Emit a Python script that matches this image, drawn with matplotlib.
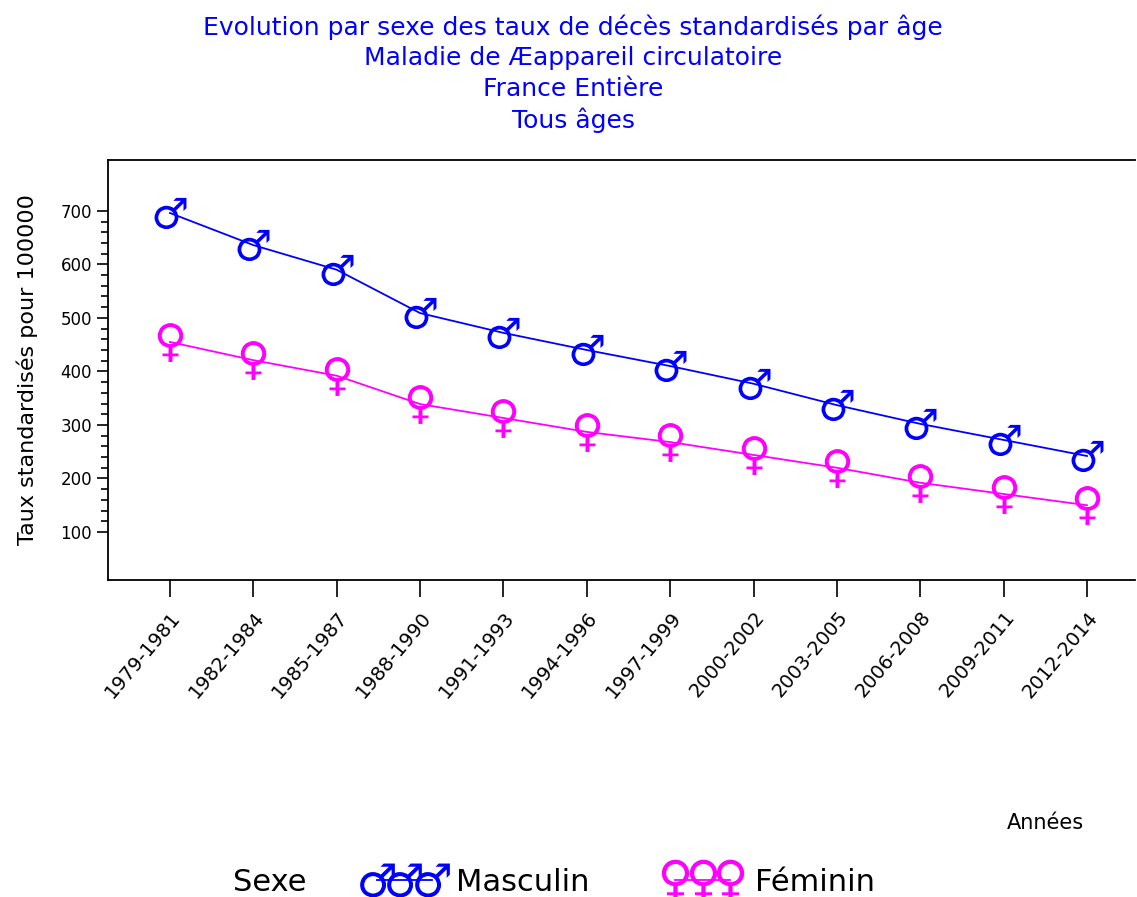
import matplotlib
matplotlib.use("Agg")
import matplotlib.pyplot as plt
from matplotlib.lines import Line2D

periodes = ["1979-1981", "1982-1984", "1985-1987", "1988-1990", "1991-1993", "1994-1996",
            "1997-1999", "2000-2002", "2003-2005", "2006-2008", "2009-2011", "2012-2014"]
masculin = [696, 636, 590, 509, 472, 440, 410, 377, 337, 302, 272, 242]
feminin = [455, 421, 392, 339, 313, 287, 268, 244, 220, 192, 171, 150]

titre = ["Evolution par sexe des taux de décès standardisés par âge",
         "Maladie de Æappareil circulatoire",
         "France Entière",
         "Tous âges"]

bleu = "#0000ff"
rose = "#ff00ff"

plt.rcParams['font.family'] = ['DejaVu Sans']

fig = plt.figure(figsize=(11.37, 8.97), dpi=100)
ax = fig.add_axes([108/1137, 1 - 580/897, (1135-108)/1137, (580-160)/897])

x = list(range(len(periodes)))
ax.plot(x, masculin, color=bleu, lw=1.3, marker="$\u2642$", markersize=23,
        markerfacecolor=bleu, markeredgewidth=0)
ax.plot(x, feminin, color=rose, lw=1.3, marker="$\u2640$", markersize=28,
        markerfacecolor=rose, markeredgewidth=0)

ax.set_xlim(-0.743, 11.576)
ax.set_ylim(10.3, 795)
ax.set_xticks(x)
ax.set_xticklabels(periodes, rotation=50, ha="right", va="top",
                   rotation_mode="anchor", fontsize=14)
ax.set_yticks([100, 200, 300, 400, 500, 600, 700])
ax.set_yticks(range(100, 701, 20), minor=True)
ax.tick_params(axis="y", labelsize=12, length=8, width=1.2)
ax.tick_params(axis="y", which="minor", length=5, width=1.2)
ax.tick_params(axis="x", length=12, width=1.2, pad=8)
ax.spines["right"].set_visible(False)
for s in ["left", "top", "bottom"]:
    ax.spines[s].set_linewidth(1.3)
ax.set_ylabel("Taux standardisés pour 100000", fontsize=16, labelpad=16)

for i, ligne in enumerate(titre):
    fig.text(0.504, 1 - (27 + i * 31) / 897, ligne, color=bleu, fontsize=18,
             ha="center", va="center")

fig.text(1045/1137, 1 - 823/897, "Années", fontsize=15, ha="center", va="center")
fig.text(233/1137, 1 - 882/897, "Sexe", fontsize=22, ha="left", va="center")

poignees = [Line2D([], [], color=bleu, lw=1.3, marker="$\u2642$", markersize=25,
                   markerfacecolor=bleu, markeredgewidth=0),
            Line2D([], [], color=rose, lw=1.3, marker="$\u2640$", markersize=30,
                   markerfacecolor=rose, markeredgewidth=0)]
fig.legend(poignees, ["Masculin", "Féminin"], loc="center left",
           bbox_to_anchor=(340/1137, 1 - 882/897), ncol=2, frameon=False,
           fontsize=22, numpoints=3, handlelength=2.4, handletextpad=0.5,
           columnspacing=2.5, borderpad=0.4, markerscale=1.0)

fig.savefig("out.png", dpi=100)
